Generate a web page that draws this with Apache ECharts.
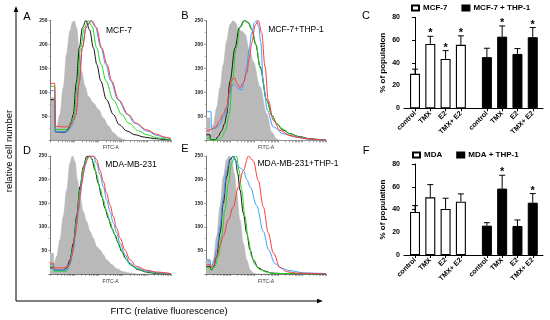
<!DOCTYPE html>
<html><head><meta charset="utf-8">
<script src="https://cdn.jsdelivr.net/npm/echarts@6/dist/echarts.min.js"></script>
<style>html,body{margin:0;padding:0;background:#fff}#c{width:550px;height:320px}</style>
</head><body><div id="c"></div>
<script>
// ---------- Histogram data: [FITC channel (0-100, log-scaled), cell count] ----------
const A_gray  = [[0,89],[3.5,89],[4,24],[5,26],[7.8,54],[10.6,110],[13.3,179],[16.1,228],[18.3,247],[19.7,249],[21.7,235],[23.9,186],[25.8,144],[28.6,113],[31.4,92],[35.6,78],[39.7,65],[43.9,47],[48.1,30],[52.2,16],[56.4,7],[60.6,2],[63.3,0],[100,0]];
const A_black = [[0,85],[3.5,85],[4,18],[12,17],[15,24],[17,38],[18.9,54],[21.4,120],[23.9,193],[26.5,235],[29.4,250],[32.5,230],[35.6,193],[38.5,158],[41.7,124],[46.5,85],[52.2,54],[57,33],[63.3,20],[70,12],[78,7],[86,4],[95,2],[100,1]];
const A_green = [[0,113],[3.5,113],[4,23],[13,22],[16,30],[18,42],[19.7,54],[22.3,120],[25,193],[28,235],[31.4,250],[34.5,238],[38.3,193],[42,158],[46.1,124],[52,85],[59.2,54],[65,36],[73.1,20],[80,12],[88,6],[96,3],[100,2]];
const A_blue  = [[0,104],[3.5,104],[4,18],[14,18],[17,28],[19.5,42],[21.1,54],[23.8,120],[26.4,193],[29.5,235],[33.3,250],[37,238],[41.9,193],[46,158],[50,124],[56,85],[63.9,54],[70,36],[80,20],[88,11],[95,6],[100,4]];
const A_red   = [[0,119],[3.5,119],[4,30],[12,28],[16,30],[19,42],[21.1,54],[23.8,120],[26.4,193],[29.8,238],[34.2,250],[38,236],[42.5,193],[47,158],[50.8,124],[56.5,85],[64.7,54],[71,36],[80,22],[88,13],[95,7],[100,4]];

const B_gray  = [[0,47],[3.3,47],[3.6,12],[6.1,33],[8.9,68],[11.7,110],[14.4,158],[17.2,207],[20,242],[22.8,250],[24.7,245],[26.9,232],[29.7,228],[32.5,222],[36,190],[39.4,164],[45,112],[50.6,56],[54.7,17],[58.9,3],[62,0],[100,0]];
const B_black = [[0,12],[3.3,12],[3.6,2],[8,2],[10,8],[13,20],[15.5,35],[17.2,54],[20,124],[24.2,193],[27.8,235],[31.9,250],[35,246],[38,232],[41.5,200],[45,154],[50.6,84],[55,52],[58.9,35],[64,22],[70,14],[78,8],[86,4],[94,2],[100,1]];
const B_green = [[0,5],[3.3,5],[3.6,1],[10,1],[13,6],[16,20],[19.4,54],[21.9,124],[25.3,193],[28.3,235],[32.5,250],[35.5,246],[38.5,230],[41.8,198],[45.3,150],[50.8,82],[55,52],[59,35],[64,24],[70,14],[78,7],[86,3],[94,1],[100,0]];
const B_blue  = [[0,60],[4.2,60],[4.5,24],[8,26],[11.7,34],[14.5,50],[17.2,65],[19.5,90],[21.4,112],[23,118],[25,114],[27,108],[29.7,105],[32,125],[33.9,154],[36,190],[38.1,224],[40.3,245],[42.3,250],[44,236],[45.6,205],[47.8,119],[51.1,63],[56.1,28],[64.4,14],[75.6,7],[85,3],[95,1],[100,0]];
const B_red   = [[0,20],[4,22],[8,28],[11.7,42],[14.5,56],[17.2,70],[19.5,100],[21.4,126],[23.6,131],[26,118],[28.3,110],[31,120],[33.9,140],[36,170],[38.1,203],[41,240],[43.6,250],[46.4,224],[49.2,154],[51.9,84],[56.1,42],[61.7,21],[70,10],[80,5],[90,2],[100,1]];

const D_gray  = [[0,44],[2.8,44],[3.3,20],[5.5,37],[8.3,73],[11,122],[13.8,178],[16.5,235],[18.5,250],[20.7,238],[22.6,199],[24.8,164],[27.5,132],[30.3,111],[33.1,90],[35.8,76],[38.6,58],[41.3,51],[44.1,41],[46.8,30],[51,20],[55.1,11],[60.6,5],[66.1,2],[71.6,0],[100,0]];
const D_black = [[0,13],[2.8,13],[3.3,8],[11,8],[13.8,13],[16.5,30],[19.3,65],[22,122],[24.8,185],[27.5,227],[30.3,249],[32.5,250],[34.4,245],[37.2,220],[39.9,192],[42.7,164],[45.5,139],[48.2,118],[51,97],[53.7,83],[56.5,65],[59.2,48],[63.4,30],[67.5,18],[73,9],[79.9,4],[88.2,1],[100,0]];
const D_green = [[0,16],[2.8,16],[3.3,6],[13.8,6],[16.5,23],[19.3,58],[22,115],[24.8,178],[27.5,224],[30.3,245],[33.1,249],[35.8,238],[38.6,210],[41.3,182],[44.1,157],[46.8,132],[49.6,111],[52.3,90],[55.1,73],[57.9,55],[62,34],[66.1,20],[71.6,11],[79.9,5],[88.2,2],[100,0]];
const D_blue  = [[0,20],[2.8,20],[3.3,8],[13.8,8],[16.5,20],[19.3,51],[22,104],[24.8,164],[27.5,213],[30.3,242],[33.1,250],[35.8,249],[38.6,234],[41.3,210],[44.1,185],[46.8,157],[49.6,132],[52.3,108],[55.1,87],[57.9,65],[62,41],[66.1,23],[71.6,13],[79.9,6],[90.9,2],[100,1]];
const D_red   = [[0,23],[2.8,23],[3.3,13],[11,13],[15.2,16],[17.9,37],[20.7,80],[23.4,136],[26.2,192],[28.9,231],[31.7,249],[34.4,250],[36.4,250],[38.6,242],[41.3,220],[44.1,196],[46.8,171],[49.6,146],[52.3,122],[55.1,97],[57.9,76],[62,51],[66.1,30],[71.6,16],[79.9,8],[88.2,4],[100,1]];

const E_gray  = [[0,30],[3.3,30],[4.2,13],[6.1,30],[8.9,80],[11.7,143],[14.4,206],[17.2,242],[19.4,250],[21.4,245],[23.6,213],[25.6,171],[28.3,115],[31.1,65],[33.9,30],[36.7,9],[39.4,2],[42.2,0],[100,0]];
const E_black = [[0,16],[3.3,16],[4.2,8],[6.1,13],[8.9,37],[11.7,87],[14.4,150],[17.2,206],[20,242],[22.8,250],[24.6,242],[26.4,213],[28.3,178],[31.1,129],[33.9,87],[36.7,51],[39.4,30],[43.6,13],[49.2,6],[54.7,2],[63.1,1],[100,0]];
const E_green = [[0,13],[3.3,13],[4.2,8],[7.5,16],[10.3,37],[13.1,80],[15.8,136],[18.6,192],[21.4,235],[24.2,250],[25.6,249],[27.5,220],[29.7,178],[32.5,122],[35.3,73],[38.1,37],[40.8,20],[45,9],[50.6,4],[57.5,1],[100,0]];
const E_blue  = [[0,30],[3.3,30],[4.2,15],[6.1,23],[8.9,51],[11.7,101],[14.4,163],[17.2,220],[20,245],[22.5,250],[24.5,240],[26.5,228],[29,224],[31.1,220],[34,200],[37,184],[42.2,145],[47.8,90],[52,52],[57.5,22],[63,12],[70,7],[82.5,2],[100,1]];
const E_red   = [[0,20],[3.3,20],[4.2,13],[6.1,16],[8.9,37],[11.7,60],[14.4,80],[18.6,115],[22.8,142],[26.9,184],[31.1,219],[35.3,250],[39.4,240],[43.6,198],[47.8,142],[51.9,87],[56.1,45],[61.7,14],[67.2,5],[75,2],[100,0]];

const histYTicks = [0, 50, 100, 150, 200, 250];
const histTitles = ['MCF-7', 'MCF-7+THP-1', 'MDA-MB-231', 'MDA-MB-231+THP-1'];

// ---------- Bar chart data (% of population) ----------
const barCategories = ['control', 'TMX', 'E2', 'TMX+ E2'];
const C_names = ['MCF-7', 'MCF-7 + THP-1'];
const C_mcf7      = [30.3, 56.6, 43.4, 55.8];
const C_mcf7_err  = [4.1, 6.7, 7.3, 7.9];
const C_mcf7_sig  = [0, 1, 1, 1];
const C_thp       = [45.0, 63.0, 47.8, 62.5];
const C_thp_err   = [7.8, 9.4, 4.7, 8.5];
const C_thp_sig   = [0, 1, 0, 1];

const F_names = ['MDA', 'MDA + THP-1'];
const F_mda       = [37.8, 50.7, 40.5, 46.9];
const F_mda_err   = [5.6, 11.2, 9.4, 6.8];
const F_mda_sig   = [0, 0, 0, 0];
const F_thp       = [25.8, 58.4, 25.5, 46.0];
const F_thp_err   = [2.6, 11.7, 5.3, 8.0];
const F_thp_sig   = [0, 1, 0, 1];
const barYTicks = [0, 20, 40, 60, 80];

// ---------- build ----------
const FONT = 'Liberation Sans, Arial, sans-serif';
const GROUP_OFFSET = 4.7;
const colors = ['#b9b9b9', '#151515', '#22d822', '#3d9cff', '#ff3a3a'];

const histGrids = [
  {left: 50.5, top: 20.5, width: 120.5, height: 120},
  {left: 206, top: 20.5, width: 120, height: 120},
  {left: 50, top: 156, width: 121, height: 118},
  {left: 206, top: 156, width: 120, height: 118}
];
const barGrids = [
  {left: 404, top: 17.3, width: 139, height: 91},
  {left: 404, top: 164, width: 139, height: 91}
];
const grids = histGrids.concat(barGrids);

const logTicks = [];
for (let d = 0; d < 5; d++) for (let k = 1; k <= 9; k++) logTicks.push(d * 20 + 20 * Math.log10(k));
logTicks.push(100);

const xAxes = [], yAxes = [], series = [];
const histData = [
  [A_gray, A_black, A_green, A_blue, A_red],
  [B_gray, B_black, B_green, B_blue, B_red],
  [D_gray, D_black, D_green, D_blue, D_red],
  [E_gray, E_black, E_green, E_blue, E_red]
];
histData.forEach((curves, gi) => {
  xAxes.push({
    type: 'value', gridIndex: gi, min: 0, max: 100,
    axisLine: {show: true, lineStyle: {color: '#555', width: 0.8}},
    axisTick: {show: true, length: 1.8, customValues: logTicks, lineStyle: {color: '#555', width: 0.6}},
    axisLabel: {show: false}, splitLine: {show: false},
    name: 'FITC-A', nameLocation: 'middle', nameGap: 5,
    nameTextStyle: {fontSize: 5, color: '#333', fontFamily: FONT}
  });
  yAxes.push({
    type: 'value', gridIndex: gi, min: histYTicks[0], max: histYTicks[histYTicks.length - 1], interval: histYTicks[1] - histYTicks[0],
    axisLine: {show: true, lineStyle: {color: '#555', width: 0.8}},
    axisTick: {show: true, length: 1.8, lineStyle: {color: '#555', width: 0.6}},
    minorTick: {show: true, splitNumber: 2, length: 1.2, lineStyle: {color: '#777', width: 0.5}},
    axisLabel: {fontSize: 5, fontWeight: 'bold', color: '#222', margin: 3, showMinLabel: false, fontFamily: FONT},
    splitLine: {show: false}
  });
  curves.forEach((c, ci) => {
    const s = {
      type: 'line', xAxisIndex: gi, yAxisIndex: gi, data: c,
      smooth: 0.35, smoothMonotone: 'x', showSymbol: false, silent: true,
      lineStyle: {color: colors[ci], width: ci === 0 ? 0.6 : 1},
      z: 2 + ci
    };
    if (ci === 0) s.areaStyle = {color: colors[0], opacity: 1};
    series.push(s);
  });
});

function barPanel(gi, names, v1, e1, s1, v2, e2, s2) {
  const tickPos = barCategories.map((_, i) => i).concat(barCategories.map((_, i) => i + GROUP_OFFSET));
  xAxes.push({
    type: 'value', gridIndex: gi, min: -0.72, max: 8.37,
    axisLine: {show: true, lineStyle: {color: '#000', width: 1}},
    axisTick: {show: true, length: 3, customValues: tickPos, lineStyle: {color: '#000'}},
    axisLabel: {
      customValues: tickPos,
      rotate: 45, fontSize: 7, fontWeight: 'bold', color: '#000', margin: 4, fontFamily: FONT,
      formatter: v => barCategories[Math.round(v >= 4 ? v - GROUP_OFFSET : v)]
    },
    splitLine: {show: false}
  });
  yAxes.push({
    type: 'value', gridIndex: gi, min: barYTicks[0], max: barYTicks[barYTicks.length - 1], interval: barYTicks[1] - barYTicks[0],
    axisLine: {show: true, lineStyle: {color: '#000', width: 1}},
    axisTick: {show: true, length: 3, lineStyle: {color: '#000'}},
    axisLabel: {fontSize: 7, fontWeight: 'bold', color: '#000', margin: 4, fontFamily: FONT},
    splitLine: {show: false},
    name: '% of population', nameLocation: 'middle', nameGap: 17, nameRotate: 90,
    nameTextStyle: {fontSize: 8, fontWeight: 'bold', color: '#000', fontFamily: FONT}
  });
  const ax = xAxes.length - 1;
  series.push({
    type: 'bar', name: names[0], xAxisIndex: ax, yAxisIndex: ax, barWidth: 10, barGap: '-100%',
    itemStyle: {color: '#fff', borderColor: '#000', borderWidth: 1.1},
    data: v1.map((v, i) => [i, v]), z: 2
  });
  series.push({
    type: 'bar', name: names[1], xAxisIndex: ax, yAxisIndex: ax, barWidth: 10, barGap: '-100%',
    itemStyle: {color: '#000', borderColor: '#000', borderWidth: 1},
    data: v2.map((v, i) => [i + GROUP_OFFSET, v]), z: 2
  });
  const errData = v1.map((v, i) => [i, v, e1[i], s1[i]]).concat(v2.map((v, i) => [i + GROUP_OFFSET, v, e2[i], s2[i]]));
  series.push({
    type: 'custom', xAxisIndex: ax, yAxisIndex: ax, silent: true, z: 4,
    encode: {x: 0, y: 1},
    data: errData,
    renderItem: (params, api) => {
      const x = api.value(0), y = api.value(1), e = api.value(2), sig = api.value(3);
      const p0 = api.coord([x, y]), p1 = api.coord([x, y + e]);
      const ch = [
        {type: 'line', shape: {x1: p0[0], y1: p0[1], x2: p1[0], y2: p1[1]}, style: {stroke: '#000', lineWidth: 1}},
        {type: 'line', shape: {x1: p1[0] - 3, y1: p1[1], x2: p1[0] + 3, y2: p1[1]}, style: {stroke: '#000', lineWidth: 1}}
      ];
      if (sig) ch.push({type: 'text', x: p1[0], y: p1[1] - 3, style: {text: '*', fontSize: 11, fontWeight: 'bold', fontFamily: FONT, fill: '#000', align: 'center', verticalAlign: 'middle'}});
      return {type: 'group', children: ch};
    }
  });
}
barPanel(4, C_names, C_mcf7, C_mcf7_err, C_mcf7_sig, C_thp, C_thp_err, C_thp_sig);
barPanel(5, F_names, F_mda, F_mda_err, F_mda_sig, F_thp, F_thp_err, F_thp_sig);

const legendCommon = {
  orient: 'horizontal', icon: 'rect', itemWidth: 7, itemHeight: 5, itemGap: 14, padding: 0,
  selectedMode: false, textStyle: {fontSize: 8, fontWeight: 'bold', color: '#000', fontFamily: FONT, padding: [0, 0, 0, -1]}
};

const txt = (x, y, t, size, extra) => Object.assign({type: 'text', x: x, y: y, silent: true,
  style: {text: t, fontSize: size, fontFamily: FONT, fill: '#000', align: 'center', verticalAlign: 'middle'}}, extra || {});

const graphic = [
  txt(27, 17, 'A', 11), txt(185, 16, 'B', 11), txt(366, 16, 'C', 11),
  txt(27, 151, 'D', 11), txt(185, 149, 'E', 11), txt(366, 151, 'F', 11),
  txt(119, 31, histTitles[0], 8.5), txt(296, 30, histTitles[1], 8.5),
  txt(131, 164.5, histTitles[2], 8.5), txt(298, 163.5, histTitles[3], 8.5),
  {type: 'line', silent: true, shape: {x1: 16, y1: 301, x2: 16, y2: 11}, style: {stroke: '#000', lineWidth: 1}},
  {type: 'polygon', silent: true, shape: {points: [[16, 6], [13.7, 12], [18.3, 12]]}, style: {fill: '#000'}},
  {type: 'line', silent: true, shape: {x1: 16, y1: 301, x2: 318, y2: 301}, style: {stroke: '#000', lineWidth: 1}},
  {type: 'polygon', silent: true, shape: {points: [[323, 301], [317, 298.7], [317, 303.3]]}, style: {fill: '#000'}},
  txt(169, 311, 'FITC (relative fluorescence)', 9.5),
  txt(9, 151, 'relative cell number', 9.5, {rotation: Math.PI / 2})
];

const chart = echarts.init(document.getElementById('c'), null, {renderer: 'canvas'});
chart.setOption({
  animation: false,
  backgroundColor: '#fff',
  grid: grids,
  xAxis: xAxes,
  yAxis: yAxes,
  legend: [
    Object.assign({}, legendCommon, {data: C_names, left: 411, top: 4}),
    Object.assign({}, legendCommon, {data: F_names, left: 412, top: 151})
  ],
  series: series,
  graphic: graphic
});
</script>
</body></html>
